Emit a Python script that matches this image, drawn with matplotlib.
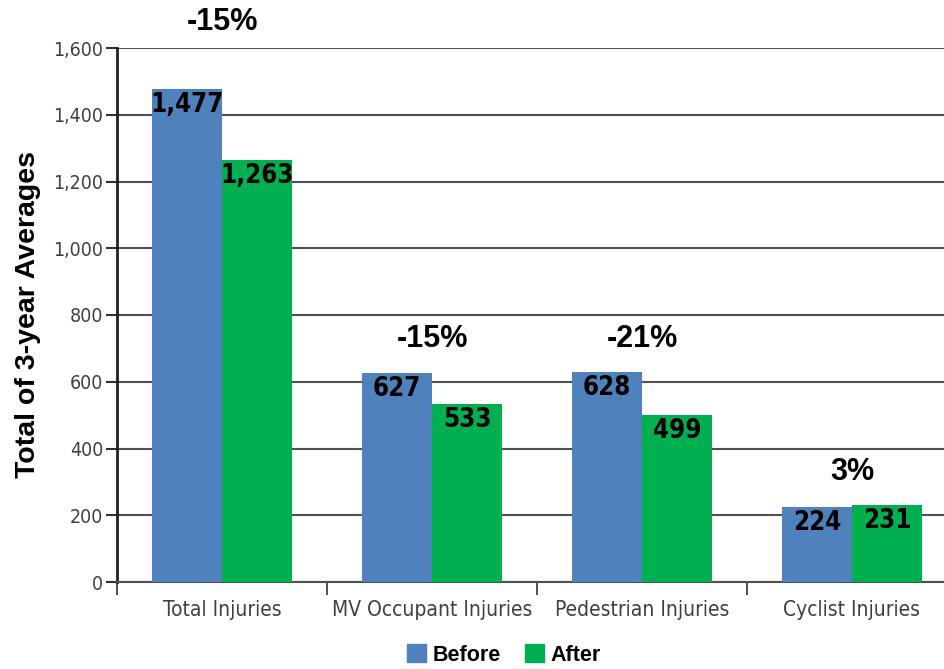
import matplotlib
matplotlib.use("Agg")
import matplotlib.pyplot as plt
from matplotlib.patches import Patch
import numpy as np

categories = ["Total Injuries", "MV Occupant Injuries", "Pedestrian Injuries", "Cyclist Injuries"]
before = [1477, 627, 628, 224]
after = [1263, 533, 499, 231]
pct_labels = ["-15%", "-15%", "-21%", "3%"]
yticks = [0, 200, 400, 600, 800, 1000, 1200, 1400, 1600]

blue = "#4F81BD"
green = "#00B050"
plain = ["Liberation Sans", "DejaVu Sans"]

fig = plt.figure(figsize=(9.45, 6.69), dpi=100)
ax = fig.add_axes([117 / 945, 87 / 669, 840 / 945, 534 / 669])

x = np.arange(len(categories))
w = 1 / 3
b1 = ax.bar(x - w / 2, before, w, color=blue, zorder=3)
b2 = ax.bar(x + w / 2, after, w, color=green, zorder=3)

# value labels just inside bar tops
for bars, vals in ((b1, before), (b2, after)):
    for r, v in zip(bars, vals):
        ax.annotate(f"{v:,}", (r.get_x() + r.get_width() / 2, v),
                    xytext=(0, -2), textcoords="offset points",
                    ha="center", va="top", fontsize=18.5, color="black",
                    family="DejaVu Sans", fontstretch="condensed", fontweight="bold",
                    zorder=4)

# percent change above each group
offsets = [48, 24, 24, 24]
for i, lab in enumerate(pct_labels):
    top = max(before[i], after[i])
    ax.annotate(lab, (x[i], top), xytext=(0, offsets[i]), textcoords="offset points",
                ha="center", va="center", fontsize=22, fontweight="bold",
                family=plain, annotation_clip=False)

ax.set_xlim(-0.5, 3.5)
ax.set_ylim(0, 1600)
ax.set_yticks(yticks)
ax.set_yticklabels([f"{t:,}" for t in yticks], family="DejaVu Sans",
                   fontstretch="condensed", fontsize=14, color="#404040")
ax.yaxis.grid(True, color="#505050", lw=1.5, zorder=1)
ax.tick_params(axis="y", length=8, width=1.5, color="#303030", pad=2)

ax.set_xticks(x)
ax.set_xticklabels(categories, family="DejaVu Sans", fontstretch="condensed",
                   fontsize=15, color="#404040")
ax.set_xticks(np.arange(-0.5, 3.6, 1), minor=True)
ax.tick_params(axis="x", which="major", length=0, pad=13)
ax.tick_params(axis="x", which="minor", length=9, width=1.2, color="#303030")

for s in ("top", "right"):
    ax.spines[s].set_visible(False)
ax.spines["left"].set_linewidth(2)
ax.spines["left"].set_color("#202020")
ax.spines["bottom"].set_linewidth(1.5)
ax.spines["bottom"].set_color("#505050")

ax.set_ylabel("Total of 3-year Averages", fontsize=20.5, fontweight="bold", family=plain, labelpad=9)

handles = [Patch(color=blue, label="Before"), Patch(color=green, label="After")]
fig.legend(handles=handles, loc="center", bbox_to_anchor=(504 / 945, 1 - 655 / 669),
           ncol=2, frameon=False, prop={"family": plain, "weight": "bold", "size": 15.5},
           handlelength=0.9, handleheight=0.9, handletextpad=0.3, columnspacing=1.1)

fig.savefig("out.png", dpi=100)
